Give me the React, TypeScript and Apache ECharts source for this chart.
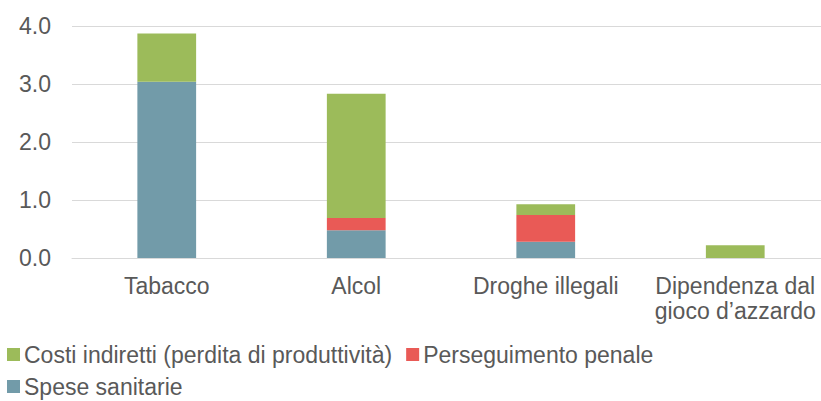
import React, { useEffect, useRef } from "react";
import * as echarts from "echarts";

const categories = ["Tabacco", "Alcol", "Droghe illegali", "Dipendenza dal\ngioco d’azzardo"];
const speseSanitarie = [3.04, 0.48, 0.28, 0];
const perseguimentoPenale = [0, 0.21, 0.46, 0];
const costiIndiretti = [0.83, 2.14, 0.185, 0.22];
const seriesNames = ["Costi indiretti (perdita di produttività)", "Perseguimento penale", "Spese sanitarie"];

const FONT = "'Liberation Sans', Arial, sans-serif";
const TEXT_COLOR = "#595959";

export default function App() {
  const ref = useRef<HTMLDivElement>(null);
  useEffect(() => {
    if (!ref.current) return;
    const chart = echarts.init(ref.current, undefined, { renderer: "svg" });
    const barCommon = {
      type: "bar" as const,
      stack: "total",
      barWidth: "31%",
    };
    const legendCommon = {
      left: 7,
      itemWidth: 13,
      itemHeight: 13,
      itemGap: 14,
      padding: 0,
      icon: "rect",
      textStyle: { fontSize: 23, color: TEXT_COLOR, fontFamily: FONT, padding: [0, 0, 0, -1] },
    };
    chart.setOption({
      animation: false,
      textStyle: { fontFamily: FONT },
      grid: { left: 72, width: 758, top: 26, height: 232, containLabel: false, outerBoundsMode: "none" },
      legend: [
        { ...legendCommon, data: [seriesNames[0], seriesNames[1]], top: 343 },
        { ...legendCommon, data: [seriesNames[2]], top: 375 },
      ],
      xAxis: {
        type: "category",
        data: categories,
        axisLine: { show: true, lineStyle: { color: "#d9d9d9", width: 1 } },
        axisTick: { show: false },
        axisLabel: { fontSize: 23, color: TEXT_COLOR, fontFamily: FONT, margin: 15, lineHeight: 25, interval: 0 },
      },
      yAxis: {
        type: "value",
        min: 0,
        max: 4,
        interval: 1,
        axisLine: { show: false },
        axisTick: { show: false },
        splitLine: { lineStyle: { color: "#d9d9d9", width: 1 } },
        axisLabel: {
          fontSize: 23,
          color: TEXT_COLOR,
          fontFamily: FONT,
          margin: 21,
          formatter: (v: number) => v.toFixed(1),
        },
      },
      series: [
        { ...barCommon, name: seriesNames[2], data: speseSanitarie, itemStyle: { color: "#729BA9" } },
        { ...barCommon, name: seriesNames[1], data: perseguimentoPenale, itemStyle: { color: "#E95A56" } },
        { ...barCommon, name: seriesNames[0], data: costiIndiretti, itemStyle: { color: "#9CBB5A" } },
      ],
    });
    return () => chart.dispose();
  }, []);
  return (
    <div
      ref={ref}
      style={{ position: "fixed", left: 0, top: 0, width: 821, height: 401, background: "#fff" }}
    />
  );
}
